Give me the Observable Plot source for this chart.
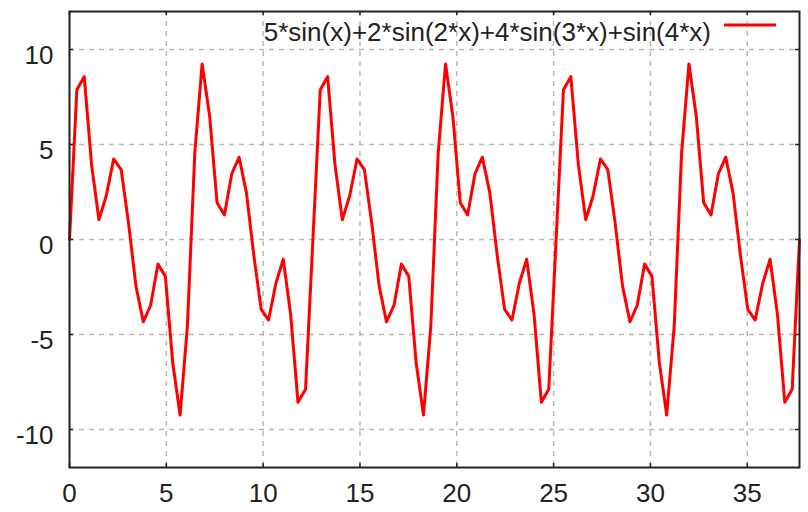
<!DOCTYPE html>
<html>
<head>
<meta charset="utf-8">
<script src="https://cdn.jsdelivr.net/npm/d3@7"></script>
<script src="https://cdn.jsdelivr.net/npm/@observablehq/plot@0.6"></script>
<style>
  html, body { margin: 0; padding: 0; background: #fff; }
</style>
</head>
<body>
<div id="chart"></div>
<script>
const legendLabel = "5*sin(x)+2*sin(2*x)+4*sin(3*x)+sin(4*x)";
const xTicks = [0, 5, 10, 15, 20, 25, 30, 35];
const yTicks = [-10, -5, 0, 5, 10];

const xs = [
  0, 0.38, 0.76, 1.14, 1.52, 1.90, 2.28, 2.67, 3.05, 3.43,
  3.81, 4.19, 4.57, 4.95, 5.33, 5.71, 6.09, 6.47, 6.85, 7.24,
  7.62, 8.00, 8.38, 8.76, 9.14, 9.52, 9.90, 10.28, 10.66, 11.04,
  11.42, 11.80, 12.19, 12.57, 12.95, 13.33, 13.71, 14.09, 14.47, 14.85,
  15.23, 15.61, 15.99, 16.37, 16.76, 17.14, 17.52, 17.90, 18.28, 18.66,
  19.04, 19.42, 19.80, 20.18, 20.56, 20.94, 21.32, 21.71, 22.09, 22.47,
  22.85, 23.23, 23.61, 23.99, 24.37, 24.75, 25.13, 25.51, 25.89, 26.28,
  26.66, 27.04, 27.42, 27.80, 28.18, 28.56, 28.94, 29.32, 29.70, 30.08,
  30.46, 30.84, 31.23, 31.61, 31.99, 32.37, 32.75, 33.13, 33.51, 33.89,
  34.27, 34.65, 35.03, 35.41, 35.80, 36.18, 36.56, 36.94, 37.32, 37.70
];

const ys = [
  0, 7.88, 8.57, 3.94, 1.04, 2.30, 4.24, 3.68, 0.85, -2.44,
  -4.33, -3.46, -1.29, -1.94, -6.47, -9.24, -4.54, 4.54, 9.24, 6.47,
  1.94, 1.29, 3.46, 4.33, 2.44, -0.85, -3.68, -4.24, -2.30, -1.04,
  -3.94, -8.57, -7.88,
  0, 7.88, 8.57, 3.94, 1.04, 2.30, 4.24, 3.68, 0.85, -2.44,
  -4.33, -3.46, -1.29, -1.94, -6.47, -9.24, -4.54, 4.54, 9.24, 6.47,
  1.94, 1.29, 3.46, 4.33, 2.44, -0.85, -3.68, -4.24, -2.30, -1.04,
  -3.94, -8.57, -7.88,
  0, 7.88, 8.57, 3.94, 1.04, 2.30, 4.24, 3.68, 0.85, -2.44,
  -4.33, -3.46, -1.29, -1.94, -6.47, -9.24, -4.54, 4.54, 9.24, 6.47,
  1.94, 1.29, 3.46, 4.33, 2.44, -0.85, -3.68, -4.24, -2.30, -1.04,
  -3.94, -8.57, -7.88,
  0
];

const data = xs.map((x, i) => ({x, y: ys[i]}));

const W = 808, H = 512;
const mL = 69, mR = 9, mT = 11, mB = 45;
const plotW = W - mL - mR, plotH = H - mT - mB;
const tick = 4;
const ink = "#222";
const gridStyle = {stroke: "#b8b8b8", strokeOpacity: 1, strokeWidth: 1.5, strokeDasharray: "5,5"};
const fmt = d => String(d);

const chart = Plot.plot({
  width: W, height: H,
  marginLeft: mL, marginRight: mR, marginTop: mT, marginBottom: mB,
  style: {fontFamily: "'Liberation Sans', Arial, sans-serif", fontSize: "26px", color: ink, background: "#fff"},
  x: {domain: [0, 37.6991]},
  y: {domain: [-12, 12]},
  marks: [
    Plot.gridX(xTicks, gridStyle),
    Plot.gridY(yTicks, gridStyle),
    Plot.ruleX(xTicks, {insetTop: plotH - tick, stroke: ink, strokeWidth: 1.5}),
    Plot.ruleX(xTicks, {insetBottom: plotH - tick, stroke: ink, strokeWidth: 1.5}),
    Plot.ruleY(yTicks, {insetRight: plotW - tick, stroke: ink, strokeWidth: 1.5}),
    Plot.ruleY(yTicks, {insetLeft: plotW - tick, stroke: ink, strokeWidth: 1.5}),
    Plot.line(data, {x: "x", y: "y", stroke: "#ff0000", strokeWidth: 3}),
    Plot.frame({stroke: ink, strokeWidth: 2}),
    Plot.axisX(xTicks, {tickSize: 0, tickPadding: 16, fontSize: 26, label: null, tickFormat: fmt}),
    Plot.axisY(yTicks, {tickSize: 0, tickPadding: 16, dy: 6, fontSize: 26, label: null, tickFormat: fmt})
  ]
});

const svg = d3.select(chart);
svg.append("text")
  .attr("x", 711).attr("y", 41)
  .attr("text-anchor", "end")
  .attr("fill", ink)
  .style("font-family", "'Liberation Sans', Arial, sans-serif")
  .style("font-size", "26px")
  .text(legendLabel);
svg.append("line")
  .attr("x1", 724).attr("x2", 776)
  .attr("y1", 25).attr("y2", 25)
  .attr("stroke", "#ff0000").attr("stroke-width", 3);

document.getElementById("chart").appendChild(chart);
</script>
</body>
</html>
